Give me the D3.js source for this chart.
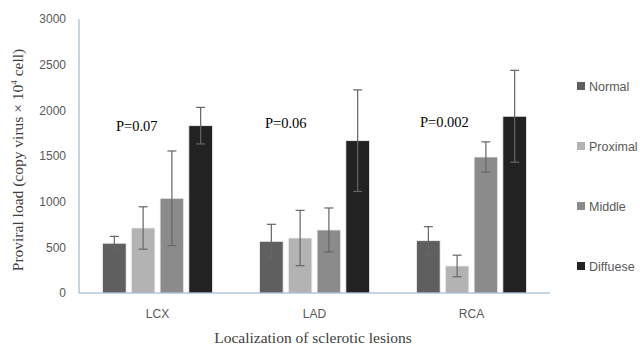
<!DOCTYPE html>
<html><head><meta charset="utf-8">
<script src="https://cdn.jsdelivr.net/npm/d3@7"></script>
<style>body{margin:0;background:#fff}svg{display:block}</style>
</head><body>
<svg id="c" width="640" height="347"></svg>
<script>
const categories = ["LCX", "LAD", "RCA"];
const series = ["Normal", "Proximal", "Middle", "Diffuese"];
const normal   = [545, 566, 573];
const proximal = [712, 602, 296];
const middle   = [1037, 690, 1489];
const diffuse  = [1832, 1668, 1935];
const errNormal   = [75, 186, 153];
const errProximal = [232, 303, 118];
const errMiddle   = [518, 241, 166];
const errDiffuse  = [200, 556, 503];
const pLabels = ["P=0.07", "P=0.06", "P=0.002"];
const yTicks = [0, 500, 1000, 1500, 2000, 2500, 3000];
const colors = ["#5f5f5f", "#b3b3b3", "#8b8b8b", "#222222"];

(function () {
const values = [normal, proximal, middle, diffuse];
const errs = [errNormal, errProximal, errMiddle, errDiffuse];
const svg = d3.select("#c");
const mLeft = 79, mRight = 550, mTop = 19, mBottom = 293;

const y = d3.scaleLinear().domain([0, 3000]).range([mBottom, mTop]);
const x0 = d3.scaleBand().domain(categories).range([mLeft, mRight]).paddingInner(0.3).paddingOuter(0.15);
const x1 = d3.scaleBand().domain(series).range([0, x0.bandwidth()]).paddingInner(0.18);

const yAxis = d3.axisLeft(y).tickValues(yTicks).tickFormat(d3.format("d")).tickSize(0).tickPadding(13);
const ga = svg.append("g").attr("transform", `translate(${mLeft},0)`).call(yAxis);
ga.select(".domain").remove();
ga.selectAll("text").attr("font-family", "Liberation Sans, Arial, sans-serif").attr("font-size", 12).attr("fill", "#595959");

const data = [];
categories.forEach((c, i) => series.forEach((s, j) => data.push({c, s, j, v: values[j][i], e: errs[j][i]})));

svg.append("g").selectAll("rect").data(data).join("rect")
  .attr("x", d => x0(d.c) + x1(d.s))
  .attr("y", d => y(d.v))
  .attr("width", x1.bandwidth())
  .attr("height", d => y(0) - y(d.v))
  .attr("fill", d => colors[d.j])
  .attr("stroke", "#f2f2f2").attr("stroke-width", 0.8);

const eg = svg.append("g").attr("stroke", "#666666").attr("stroke-width", 1.2).attr("fill", "none");
data.forEach(d => {
  const cx = x0(d.c) + x1(d.s) + x1.bandwidth() / 2;
  const y1 = y(d.v + d.e), y2 = y(Math.max(0, d.v - d.e));
  eg.append("line").attr("x1", cx).attr("x2", cx).attr("y1", y1).attr("y2", y2);
  eg.append("line").attr("x1", cx - 4.5).attr("x2", cx + 4.5).attr("y1", y1).attr("y2", y1);
  eg.append("line").attr("x1", cx - 4.5).attr("x2", cx + 4.5).attr("y1", y2).attr("y2", y2);
});

svg.append("line").attr("x1", mLeft).attr("x2", mLeft).attr("y1", mTop).attr("y2", mBottom).attr("stroke", "#8ea9c8").attr("stroke-width", 1);
svg.append("line").attr("x1", mLeft).attr("x2", mRight).attr("y1", mBottom).attr("y2", mBottom).attr("stroke", "#8ea9c8").attr("stroke-width", 1.2);

svg.append("g").selectAll("text").data(categories).join("text")
  .attr("x", d => x0(d) + x0.bandwidth() / 2).attr("y", 318)
  .attr("text-anchor", "middle")
  .attr("font-family", "Liberation Sans, Arial, sans-serif").attr("font-size", 12).attr("fill", "#595959")
  .text(d => d);

const pX = [116, 265, 420], pY = [131, 128, 127];
svg.append("g").selectAll("text").data(pLabels).join("text")
  .attr("x", (d, i) => pX[i]).attr("y", (d, i) => pY[i])
  .attr("font-family", "Liberation Serif, Times New Roman, serif").attr("font-size", 14.5).attr("fill", "#000")
  .text(d => d);

svg.append("text").attr("x", 313).attr("y", 343).attr("text-anchor", "middle")
  .attr("font-family", "Liberation Serif, Times New Roman, serif").attr("font-size", 15.5).attr("fill", "#404040")
  .text("Localization of sclerotic lesions");
const yt = svg.append("text").attr("transform", "translate(23,160) rotate(-90)").attr("text-anchor", "middle")
  .attr("font-family", "Liberation Serif, Times New Roman, serif").attr("font-size", 15.5).attr("fill", "#404040");
yt.append("tspan").text("Proviral load (copy virus \u00d7 10");
yt.append("tspan").attr("font-size", 9).attr("dy", -6).text("4");
yt.append("tspan").attr("dy", 6).text("  cell)");

const legY = [86, 146, 206, 266];
const lg = svg.append("g").selectAll("g").data(series).join("g")
  .attr("transform", (d, i) => `translate(577,${legY[i]})`);
lg.append("rect").attr("x", 0).attr("y", -4).attr("width", 8).attr("height", 8).attr("fill", (d, i) => colors[i]);
lg.append("text").attr("x", 12).attr("y", 4.5)
  .attr("font-family", "Liberation Sans, Arial, sans-serif").attr("font-size", 12.5).attr("fill", "#595959")
  .text(d => d);
})();
</script>
</body></html>
